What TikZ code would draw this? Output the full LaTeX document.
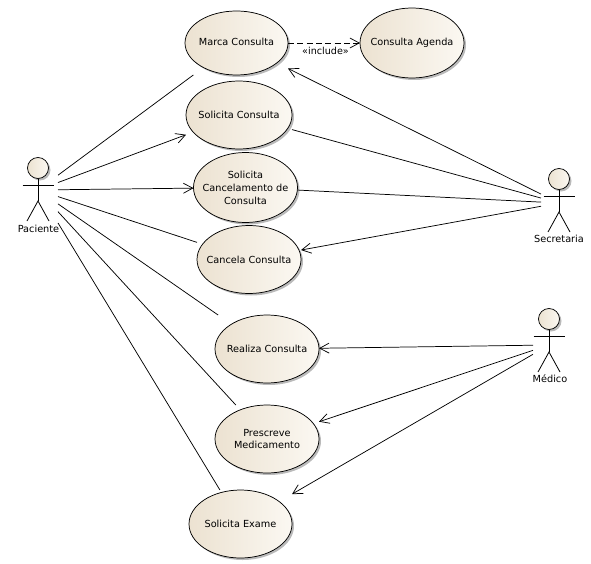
\documentclass[tikz,border=0pt]{standalone}
\usepackage{fontspec}
\setmainfont{DejaVu Sans}
\usepackage{tikz}
\usetikzlibrary{arrows.meta, positioning, shadows}
\usepackage{xcolor}
\definecolor{casedark}{RGB}{236,226,209}
\definecolor{caselight}{RGB}{251,248,242}
\newcommand{\usecase}[5]{%
  \path[casefill] (#2) ellipse (#3 and #4);
  \node[casebox, minimum width=#3*1.5pt, minimum height=#4*1.5pt] (#1) at (#2) {#5};
}
\tikzset{
  casefill/.style={
    draw=black, line width=0.55pt,
    left color=casedark, right color=caselight,
    drop shadow={shadow xshift=1.5pt, shadow yshift=-1.5pt, fill=black!45, opacity=0.6}
  },
  casebox/.style={
    rectangle, inner sep=0pt, outer sep=0pt,
    align=center, font=\fontsize{7.3}{9.7}\selectfont
  },
  actorbox/.style={rectangle, inner sep=0pt, outer sep=0pt},
  actorname/.style={inner sep=0pt, font=\fontsize{7.3}{8}\selectfont},
  stickman/.pic={
    \path[casefill] (0,0) circle (10.5);
    \draw[line width=0.6pt] (-15.5,17) -- (15.5,17);
    \draw[line width=0.6pt] (0,10.5) -- (0,33);
    \draw[line width=0.6pt] (-11,53) -- (0,33) -- (11,53);
  },
  assoc/.style={line width=0.55pt},
  arrow/.style={-{Straight Barb[length=7pt, width=7.5pt]}, line width=0.55pt},
  dasharrow/.style={-{Straight Barb[length=7pt, width=7.5pt]}, line width=0.55pt, dash pattern=on 4.5pt off 2.5pt},
}
\begin{document}
\begin{tikzpicture}[x=0.75pt, y=-0.75pt]
  \useasboundingbox (0,0) rectangle (591,563);

  \usecase{marca}{236.5,43}{51.5}{32}{\raisebox{1.5pt}{Marca Consulta}}
  \usecase{agenda}{412,43}{52}{35}{Consulta Agenda}
  \usecase{solicita}{239,115}{53}{34}{Solicita Consulta}
  \usecase{pedido}{245.5,187.5}{52}{35}{Solicita\\Cancelamento de\\Consulta}
  \usecase{cancela}{249,259.5}{52}{34}{Cancela Consulta}
  \usecase{realiza}{267,349}{52}{34}{Realiza Consulta}
  \usecase{prescreve}{267,439}{52}{34}{Prescreve\\Medicamento}
  \usecase{exame}{240.5,524}{51.5}{34}{Solicita Exame}

  \pic at (38,168) {stickman};
  \pic at (559,179) {stickman};
  \pic at (549,319) {stickman};

  \node[actorbox, minimum width=30pt, minimum height=52pt] (paciente) at (38,190) {};
  \node[actorbox, minimum width=27pt, minimum height=52pt] (secretaria) at (559,203) {};
  \node[actorbox, minimum width=24pt, minimum height=38pt] (medico) at (549,345) {};

  \node[actorname] (pacientename) at (38.5,229) {Paciente};
  \node[actorname] (secretarianame) at (559,239) {Secretaria};
  \node[actorname] (mediconame) at (550,379) {Médico};

  \draw[assoc] (paciente) -- (marca);
  \draw[arrow] (paciente) -- (solicita);
  \draw[arrow] (paciente) -- (pedido);
  \draw[assoc] (paciente) -- (cancela);
  \draw[assoc] (paciente) -- (realiza);
  \draw[assoc] (paciente) -- (prescreve);
  \draw[assoc] (paciente) -- (exame);

  \draw[arrow] (secretaria) -- (marca);
  \draw[assoc] (secretaria) -- (solicita);
  \draw[assoc] (secretaria) -- (pedido);
  \draw[arrow] (secretaria) -- (cancela);

  \draw[arrow] (medico) -- (realiza);
  \draw[arrow] (medico) -- (prescreve);
  \draw[arrow] (medico) -- (exame);

  \draw[dasharrow] (marca) -- (agenda);
  \node[inner sep=0pt, font=\fontsize{7.2}{8}\selectfont] (include) at (325.5,51) {«include»};
\end{tikzpicture}
\end{document}
